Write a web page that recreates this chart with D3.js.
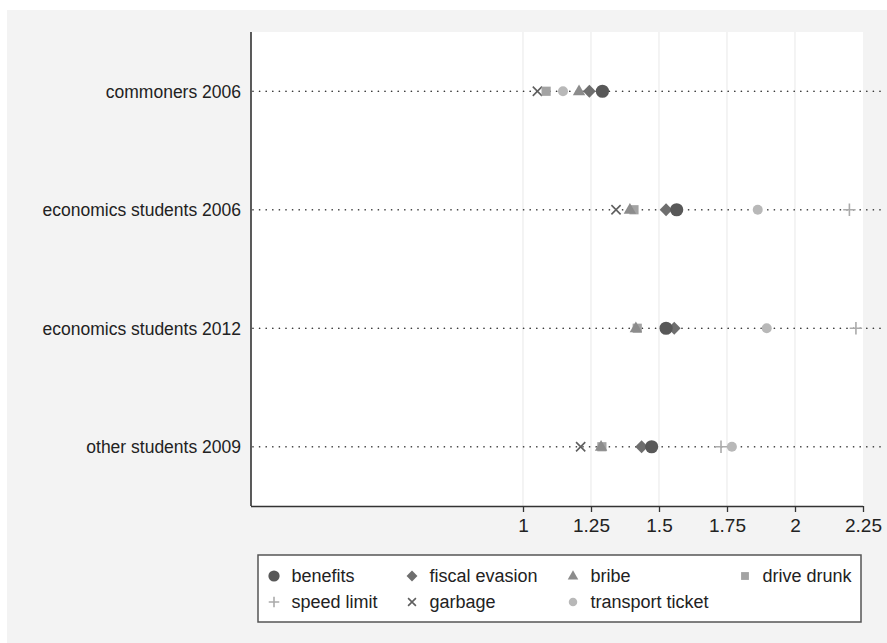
<!DOCTYPE html>
<html>
<head>
<meta charset="utf-8">
<script src="https://cdn.jsdelivr.net/npm/d3@7"></script>
<style>
  html, body { margin: 0; padding: 0; background: #ffffff; }
  svg { display: block; font-family: "Liberation Sans", Arial, Helvetica, sans-serif; }
</style>
</head>
<body>
<svg id="chart" width="887" height="643"></svg>
<script>
// Groups shown on the category axis
const categories = ["commoners 2006", "economics students 2006", "economics students 2012", "other students 2009"];

// Mean rating per group for each item (null = not asked)
const benefits        = [1.292, 1.565, 1.526, 1.473];
const fiscalEvasion   = [1.244, 1.526, 1.556, 1.436];
const bribe           = [1.206, 1.393, 1.415, 1.287];
const driveDrunk      = [1.085, 1.408, 1.420, 1.290];
const speedLimit      = [null,  2.200, 2.224, 1.728];
const garbage         = [1.053, 1.342, null,  1.212];
const transportTicket = [1.147, 1.863, 1.896, 1.768];

const xTicks = [1, 1.25, 1.5, 1.75, 2, 2.25];

const series = [
  { name: "benefits",         values: benefits,        shape: "circle",   color: "#585858", size: 6.6 },
  { name: "fiscal evasion",   values: fiscalEvasion,   shape: "diamond",  color: "#6e6e6e", size: 6.4 },
  { name: "bribe",            values: bribe,           shape: "triangle", color: "#8c8c8c", size: 6.2 },
  { name: "drive drunk",      values: driveDrunk,      shape: "square",   color: "#a3a3a3", size: 4.6 },
  { name: "speed limit",      values: speedLimit,      shape: "plus",     color: "#ababab", size: 6.2 },
  { name: "garbage",          values: garbage,         shape: "times",    color: "#5f5f5f", size: 4.6 },
  { name: "transport ticket", values: transportTicket, shape: "circle",   color: "#b8b8b8", size: 5.0 }
];

const svg = d3.select("#chart");

// Outer graph region
svg.append("rect").attr("x", 7).attr("y", 10).attr("width", 880).attr("height", 633).attr("fill", "#f3f3f3");

const plot = { left: 251, right: 863, top: 32, bottom: 506, lineEnd: 882 };

const x = d3.scaleLinear().domain([0, 2.25]).range([plot.left, plot.right]);
const y = d3.scaleBand().domain(categories).range([plot.top, plot.bottom]).padding(0);
const yc = c => y(c) + y.bandwidth() / 2;

// Plot region
svg.append("rect")
  .attr("x", plot.left).attr("y", plot.top)
  .attr("width", plot.right - plot.left).attr("height", plot.bottom - plot.top)
  .attr("fill", "#ffffff");

// Faint vertical grid lines
svg.append("g").selectAll("line")
  .data(xTicks.filter(t => t < 2.25))
  .join("line")
  .attr("x1", d => x(d)).attr("x2", d => x(d))
  .attr("y1", plot.top).attr("y2", plot.bottom)
  .attr("stroke", "#ececec").attr("stroke-width", 1.2);

// Dotted guide line for each group
svg.append("g").selectAll("line")
  .data(categories)
  .join("line")
  .attr("x1", plot.left + 2).attr("x2", plot.lineEnd)
  .attr("y1", d => yc(d)).attr("y2", d => yc(d))
  .attr("stroke", "#3a3a3a").attr("stroke-width", 1.7)
  .attr("stroke-linecap", "round")
  .attr("stroke-dasharray", "0 6.6");

// Marker drawing
function drawMarker(g, shape, cx, cy, s, color) {
  if (shape === "circle") {
    g.append("circle").attr("cx", cx).attr("cy", cy).attr("r", s).attr("fill", color);
  } else if (shape === "diamond") {
    g.append("path")
      .attr("d", `M${cx},${cy - s}L${cx + s},${cy}L${cx},${cy + s}L${cx - s},${cy}Z`)
      .attr("fill", color);
  } else if (shape === "triangle") {
    const h = s * 1.73;
    g.append("path")
      .attr("d", `M${cx},${cy - h * 0.62}L${cx + s},${cy + h * 0.38}L${cx - s},${cy + h * 0.38}Z`)
      .attr("fill", color);
  } else if (shape === "square") {
    g.append("rect").attr("x", cx - s).attr("y", cy - s).attr("width", 2 * s).attr("height", 2 * s).attr("fill", color);
  } else if (shape === "plus") {
    g.append("path")
      .attr("d", `M${cx - s},${cy}H${cx + s}M${cx},${cy - s}V${cy + s}`)
      .attr("stroke", color).attr("stroke-width", 1.6).attr("fill", "none");
  } else if (shape === "times") {
    g.append("path")
      .attr("d", `M${cx - s},${cy - s}L${cx + s},${cy + s}M${cx - s},${cy + s}L${cx + s},${cy - s}`)
      .attr("stroke", color).attr("stroke-width", 1.6).attr("fill", "none");
  }
}

// Points: later items underneath, benefits on top
const marks = svg.append("g");
series.slice().reverse().forEach(sr => {
  sr.values.forEach((v, i) => {
    if (v == null) return;
    drawMarker(marks, sr.shape, x(v), yc(categories[i]), sr.size, sr.color);
  });
});

// Axes
const axisColor = "#333333";
svg.append("line")
  .attr("x1", plot.left).attr("x2", plot.left)
  .attr("y1", plot.top).attr("y2", plot.bottom)
  .attr("stroke", axisColor).attr("stroke-width", 1.6);

const xAxis = svg.append("g")
  .attr("transform", `translate(0,${plot.bottom})`)
  .call(d3.axisBottom(x).tickValues(xTicks).tickFormat(d3.format("~g")).tickSize(6).tickSizeOuter(0).tickPadding(6.5));
xAxis.select(".domain").attr("stroke", axisColor).attr("stroke-width", 1.6)
  .attr("d", `M${plot.left},0.5H${plot.right}`);
xAxis.selectAll(".tick line").attr("stroke", axisColor).attr("stroke-width", 1.3);
xAxis.selectAll(".tick text").attr("fill", "#222").style("font-size", "19px")
  .style("font-family", "'Liberation Sans', Arial, sans-serif");

// Category labels
svg.append("g").selectAll("text")
  .data(categories)
  .join("text")
  .attr("x", plot.left - 10)
  .attr("y", d => yc(d))
  .attr("dy", "0.36em")
  .attr("text-anchor", "end")
  .attr("fill", "#222")
  .style("font-size", "17.5px")
  .text(d => d);

// Legend
const legend = svg.append("g");
legend.append("rect")
  .attr("x", 258).attr("y", 555).attr("width", 603).attr("height", 67)
  .attr("fill", "#ffffff").attr("stroke", "#555").attr("stroke-width", 1.5);

const legCols = [274, 412, 573, 745];
const legRows = [576, 602];
series.forEach((sr, i) => {
  const cx = legCols[i % 4];
  const cy = legRows[Math.floor(i / 4)];
  drawMarker(legend, sr.shape, cx, cy, sr.size * 0.85, sr.color);
  legend.append("text")
    .attr("x", cx + 17.5).attr("y", cy).attr("dy", "0.36em")
    .attr("fill", "#222").style("font-size", "18px")
    .text(sr.name);
});
</script>
</body>
</html>
